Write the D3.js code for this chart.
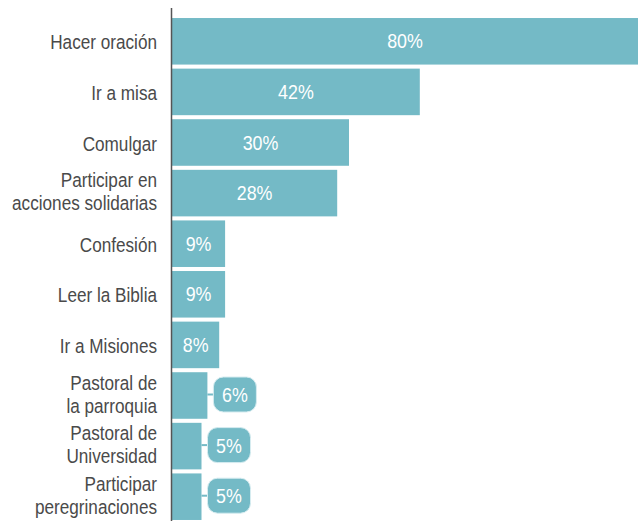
<!DOCTYPE html>
<html>
<head>
<meta charset="utf-8">
<script src="https://cdn.jsdelivr.net/npm/d3@7"></script>
<style>
  html, body { margin: 0; padding: 0; background: #fff; }
  svg { display: block; }
</style>
</head>
<body>
<svg id="chart" width="638" height="521"></svg>
<script>
const categories = [
  ["Hacer oración"],
  ["Ir a misa"],
  ["Comulgar"],
  ["Participar en", "acciones solidarias"],
  ["Confesión"],
  ["Leer la Biblia"],
  ["Ir a Misiones"],
  ["Pastoral de", "la parroquia"],
  ["Pastoral de", "Universidad"],
  ["Participar", "peregrinaciones"]
];
const values = [80, 42, 30, 28, 9, 9, 8, 6, 5, 5];

const W = 638, H = 521;
const barColor = "#74bac6";
const textColor = "#4a4a4a";
const fontFam = "'Liberation Sans', Arial, sans-serif";

const svg = d3.select("#chart");
const idx = d3.range(categories.length);

const x = d3.scaleLinear().domain([0, 100]).range([172, 762]);
const y = d3.scaleBand().domain(idx).range([16, 522]).paddingInner(0.08).paddingOuter(0.04);

// bars
svg.append("g").selectAll("rect").data(idx).join("rect")
  .attr("x", x(0))
  .attr("y", i => y(i))
  .attr("width", i => x(values[i]) - x(0))
  .attr("height", y.bandwidth())
  .attr("fill", barColor);

// axis line
svg.append("line")
  .attr("x1", 171.5).attr("x2", 171.5)
  .attr("y1", 8).attr("y2", H)
  .attr("stroke", "#555").attr("stroke-width", 1.5);

// category labels
const lab = svg.append("g");
idx.forEach(i => {
  const c = y(i) + y.bandwidth() / 2;
  const lines = categories[i];
  const offs = lines.length === 1 ? [8] : [-6, 17];
  lines.forEach((t, k) => {
    lab.append("text")
      .attr("transform", `translate(157,${c + offs[k]}) scale(0.88,1)`)
      .attr("text-anchor", "end")
      .attr("font-family", fontFam)
      .attr("font-size", "19.5px")
      .attr("fill", textColor)
      .text(t);
  });
});

// value labels
const vg = svg.append("g");
idx.forEach(i => {
  const v = values[i];
  const c = y(i) + y.bandwidth() / 2;
  const x0 = x(0), x1 = Math.min(x(v), W);
  const label = v + "%";
  if (v >= 7) {
    vg.append("text")
      .attr("transform", `translate(${(x0 + x1) / 2},${c + 7}) scale(0.85,1)`)
      .attr("text-anchor", "middle")
      .attr("font-family", fontFam)
      .attr("font-size", "21px")
      .attr("fill", "#fff")
      .text(label);
  } else {
    const bx = x1 + 6, bw = 43, bh = 35;
    vg.append("line")
      .attr("x1", x1).attr("x2", bx + 1)
      .attr("y1", c - 1).attr("y2", c - 1)
      .attr("stroke", barColor).attr("stroke-width", 2);
    vg.append("rect")
      .attr("x", bx).attr("y", c - 1 - bh / 2)
      .attr("width", bw).attr("height", bh)
      .attr("rx", 10).attr("ry", 10)
      .attr("fill", barColor)
      .attr("stroke", "#d6ecf0").attr("stroke-width", 1);
    vg.append("text")
      .attr("transform", `translate(${bx + bw / 2},${c + 6.5}) scale(0.85,1)`)
      .attr("text-anchor", "middle")
      .attr("font-family", fontFam)
      .attr("font-size", "21px")
      .attr("fill", "#fff")
      .text(label);
  }
});
</script>
</body>
</html>
